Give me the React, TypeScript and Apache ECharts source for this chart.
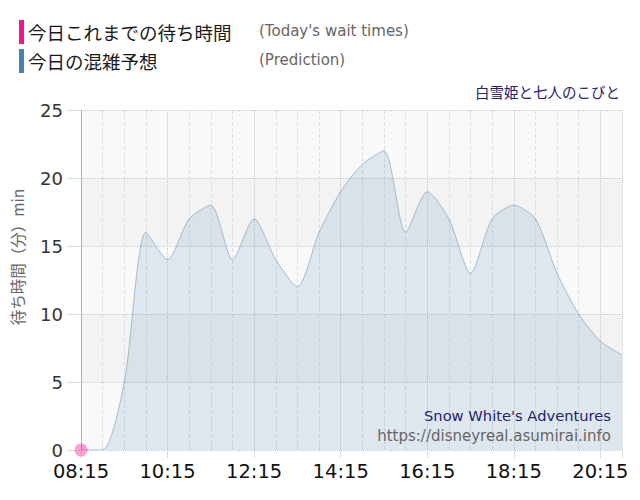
import React, { useEffect, useRef } from "react";
import * as echarts from "echarts";

const times = [
  "08:15", "08:45", "09:15", "09:45", "10:15", "10:45", "11:15", "11:45", "12:15",
  "12:45", "13:15", "13:45", "14:15", "14:45", "15:15", "15:45", "16:15", "16:45",
  "17:15", "17:45", "18:15", "18:45", "19:15", "19:45", "20:15", "20:45",
];
const predicted = [
  0, 0, 5, 16, 14, 17, 18, 14, 17,
  14, 12, 16, 19, 21, 22, 16, 19, 17,
  13, 17, 18, 17, 13, 10, 8, 7,
];
const todayTimes = ["08:15"];
const todayValues = [0];
const yTicks = [0, 5, 10, 15, 20, 25];

const START = 8 * 60 + 15;
const END = 20 * 60 + 45;
const toOff = (t: string) => {
  const [h, m] = t.split(":").map(Number);
  return h * 60 + m - START;
};
const fmt = (v: number) => {
  const m = START + v;
  const hh = String(Math.floor(m / 60)).padStart(2, "0");
  const mm = String(m % 60).padStart(2, "0");
  return `${hh}:${mm}`;
};

const JP = '"Noto Sans CJK JP", sans-serif';
const LAT = '"DejaVu Sans", sans-serif';

export default function App() {
  const ref = useRef<HTMLDivElement>(null);
  useEffect(() => {
    document.body.style.margin = "0";
    const chart = echarts.init(ref.current!, null, { renderer: "svg" });
    chart.setOption({
      animation: false,
      backgroundColor: "#ffffff",
      grid: { left: 81, right: 18, top: 110, bottom: 50 },
      xAxis: {
        type: "value",
        min: 0,
        max: END - START,
        interval: 120,
        axisLine: { show: false },
        axisTick: { show: true, length: 8, lineStyle: { color: "#dddddd" } },
        axisLabel: {
          margin: 11,
          fontSize: 19.5,
          fontFamily: LAT,
          color: "#111111",
          formatter: (v: number) => (v % 120 === 0 ? fmt(v) : ""),
        },
        splitLine: { show: true, lineStyle: { type: "dotted", color: "#c8c8c8" } },
        minorTick: { show: false, splitNumber: 4 },
        minorSplitLine: { show: true, lineStyle: { type: "dashed", color: "#dedede" } },
      },
      yAxis: {
        type: "value",
        min: yTicks[0],
        max: yTicks[yTicks.length - 1],
        interval: 5,
        axisLine: { show: true, lineStyle: { color: "#b0b0b0" } },
        axisTick: { show: true, length: 14, lineStyle: { color: "#dddddd" } },
        axisLabel: { margin: 18, fontSize: 18, fontFamily: LAT, color: "#333333" },
        splitLine: { show: true, lineStyle: { type: "dotted", color: "#c8c8c8" } },
        splitArea: { show: true, areaStyle: { color: ["#f9f9f9", "#f3f3f3"] } },
      },
      series: [
        {
          name: "prediction",
          type: "line",
          smooth: 0.25,
          showSymbol: false,
          data: times.map((t, i) => [toOff(t), predicted[i]]),
          lineStyle: { color: "rgba(70,130,180,0.45)", width: 1 },
          areaStyle: { color: "rgba(70,130,180,0.2)" },
          z: 2,
        },
        {
          name: "today",
          type: "scatter",
          symbolSize: 13,
          data: todayTimes.map((t, i) => [toOff(t), todayValues[i]]),
          itemStyle: { color: "rgba(255,20,147,0.5)" },
          clip: false,
          z: 3,
        },
      ],
      graphic: [
        { type: "rect", shape: { x: 19, y: 20, width: 5, height: 24 }, style: { fill: "#f0168c" } },
        {
          type: "text", x: 28, y: 32,
          style: { text: "今日これまでの待ち時間", font: `18.5px ${JP}`, fill: "#1a1a1a", verticalAlign: "middle" },
        },
        {
          type: "text", x: 259, y: 31,
          style: { text: "(Today's wait times)", font: `15px ${LAT}`, fill: "#666666", verticalAlign: "middle" },
        },
        { type: "rect", shape: { x: 19, y: 49, width: 5, height: 24 }, style: { fill: "#4682b4" } },
        {
          type: "text", x: 28, y: 61,
          style: { text: "今日の混雑予想", font: `18.5px ${JP}`, fill: "#1a1a1a", verticalAlign: "middle" },
        },
        {
          type: "text", x: 259, y: 60,
          style: { text: "(Prediction)", font: `15px ${LAT}`, fill: "#666666", verticalAlign: "middle" },
        },
        {
          type: "text", x: 620, y: 91,
          style: { text: "白雪姫と七人のこびと", font: `14.5px ${JP}`, fill: "#22226e", align: "right", verticalAlign: "middle" },
        },
        {
          type: "text", x: 17, y: 257, rotation: Math.PI / 2,
          style: { text: "待ち時間（分）min", font: `15.5px ${JP}`, fill: "#666666", align: "center", verticalAlign: "middle" },
        },
        {
          type: "text", x: 611, y: 415, z: 10,
          style: { text: "Snow White's Adventures", font: `14.7px ${LAT}`, fill: "#22226e", align: "right", verticalAlign: "middle" },
        },
        {
          type: "text", x: 611, y: 436, z: 10,
          style: { text: "https://disneyreal.asumirai.info", font: `15px ${LAT}`, fill: "#666666", align: "right", verticalAlign: "middle" },
        },
      ],
    });
    return () => chart.dispose();
  }, []);
  return <div ref={ref} style={{ width: 640, height: 500 }} />;
}
